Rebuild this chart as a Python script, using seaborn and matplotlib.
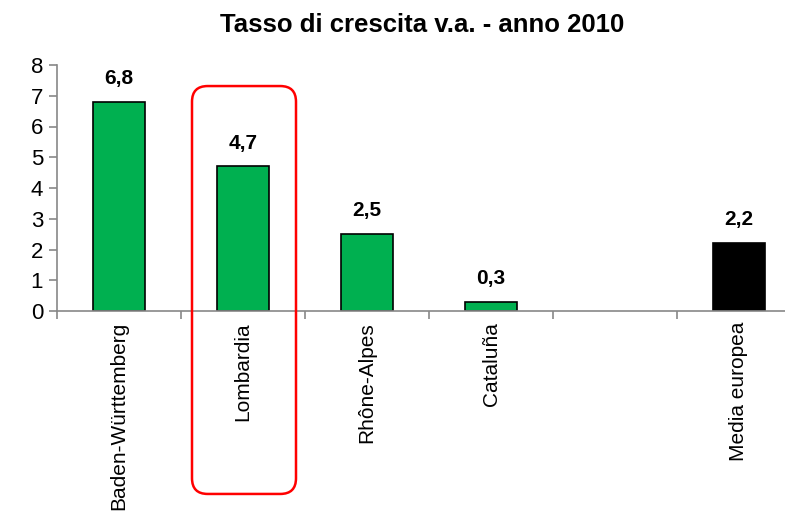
import matplotlib
matplotlib.use("Agg")
import matplotlib.pyplot as plt
import seaborn as sns
import pandas as pd
from matplotlib.patches import FancyBboxPatch

categories = ["Baden-Württemberg", "Lombardia", "Rhône-Alpes", "Cataluña", "Media europea"]
values = [6.8, 4.7, 2.5, 0.3, 2.2]
order = ["Baden-Württemberg", "Lombardia", "Rhône-Alpes", "Cataluña", " ", "Media europea"]
colors = ["#00B050", "#00B050", "#00B050", "#00B050", "#000000"]
title = "Tasso di crescita v.a. - anno 2010"
yticks = [0, 1, 2, 3, 4, 5, 6, 7, 8]

sns.set_theme(style="white")
plt.rcParams["font.family"] = ["Liberation Sans Narrow", "Liberation Sans", "DejaVu Sans"]
plt.rcParams["text.color"] = "black"
plt.rcParams["xtick.labelcolor"] = "black"
plt.rcParams["ytick.labelcolor"] = "black"

df = pd.DataFrame({"cat": categories, "val": values})
W, H = 785, 525
fig = plt.figure(figsize=(W / 100, H / 100), dpi=100)
ax = fig.add_axes([57 / W, 1 - 311 / H, (785 - 57) / W, (311 - 65) / H])

sns.barplot(data=df, x="cat", y="val", order=order, hue="cat",
            palette=dict(zip(categories, colors)), legend=False,
            width=0.42, edgecolor="black", linewidth=1.2, ax=ax, saturation=1)

ax.set_yticks(yticks)
ax.set_yticklabels([str(v) for v in yticks], fontsize=16, color="black")
ax.set_xticks(range(len(order)))
ax.set_xticklabels(order, rotation=90, fontsize=15, color="black")
ax.set_xticks([i + 0.5 for i in range(-1, len(order))], minor=True)
ax.set_ylim(0, 8)
ax.set_xlim(-0.5, 5.5 - 16 / 124)
ax.tick_params(axis="x", which="major", length=0, pad=8)
ax.tick_params(axis="x", which="minor", length=6, width=1.2, color="#888888", direction="out", bottom=True)
ax.tick_params(axis="y", length=6, width=1.2, color="#888888", direction="out", left=True, pad=4)
ax.set_xlabel("")
ax.set_ylabel("")
for s in ["top", "right"]:
    ax.spines[s].set_visible(False)
for s in ["left", "bottom"]:
    ax.spines[s].set_color("#888888")
    ax.spines[s].set_linewidth(1.2)

for cont in ax.containers:
    ax.bar_label(cont, labels=[("%.1f" % b.get_height()).replace(".", ",") if b.get_height() == b.get_height() else "" for b in cont],
                 padding=10, fontsize=15, fontweight="bold", color="black")

fig.text(422 / W, 1 - 25 / H, title, ha="center", va="center", fontsize=18.5, fontweight="bold", color="black")

box = FancyBboxPatch((192 / W + 0.02, 1 - 494 / H + 0.03), (296 - 192) / W - 0.04, (494 - 86) / H - 0.06,
                     boxstyle="round,pad=0.02", transform=fig.transFigure,
                     fill=False, edgecolor="red", linewidth=1.8, mutation_aspect=W / H)
fig.patches.append(box)

fig.savefig("out.png", dpi=100)
